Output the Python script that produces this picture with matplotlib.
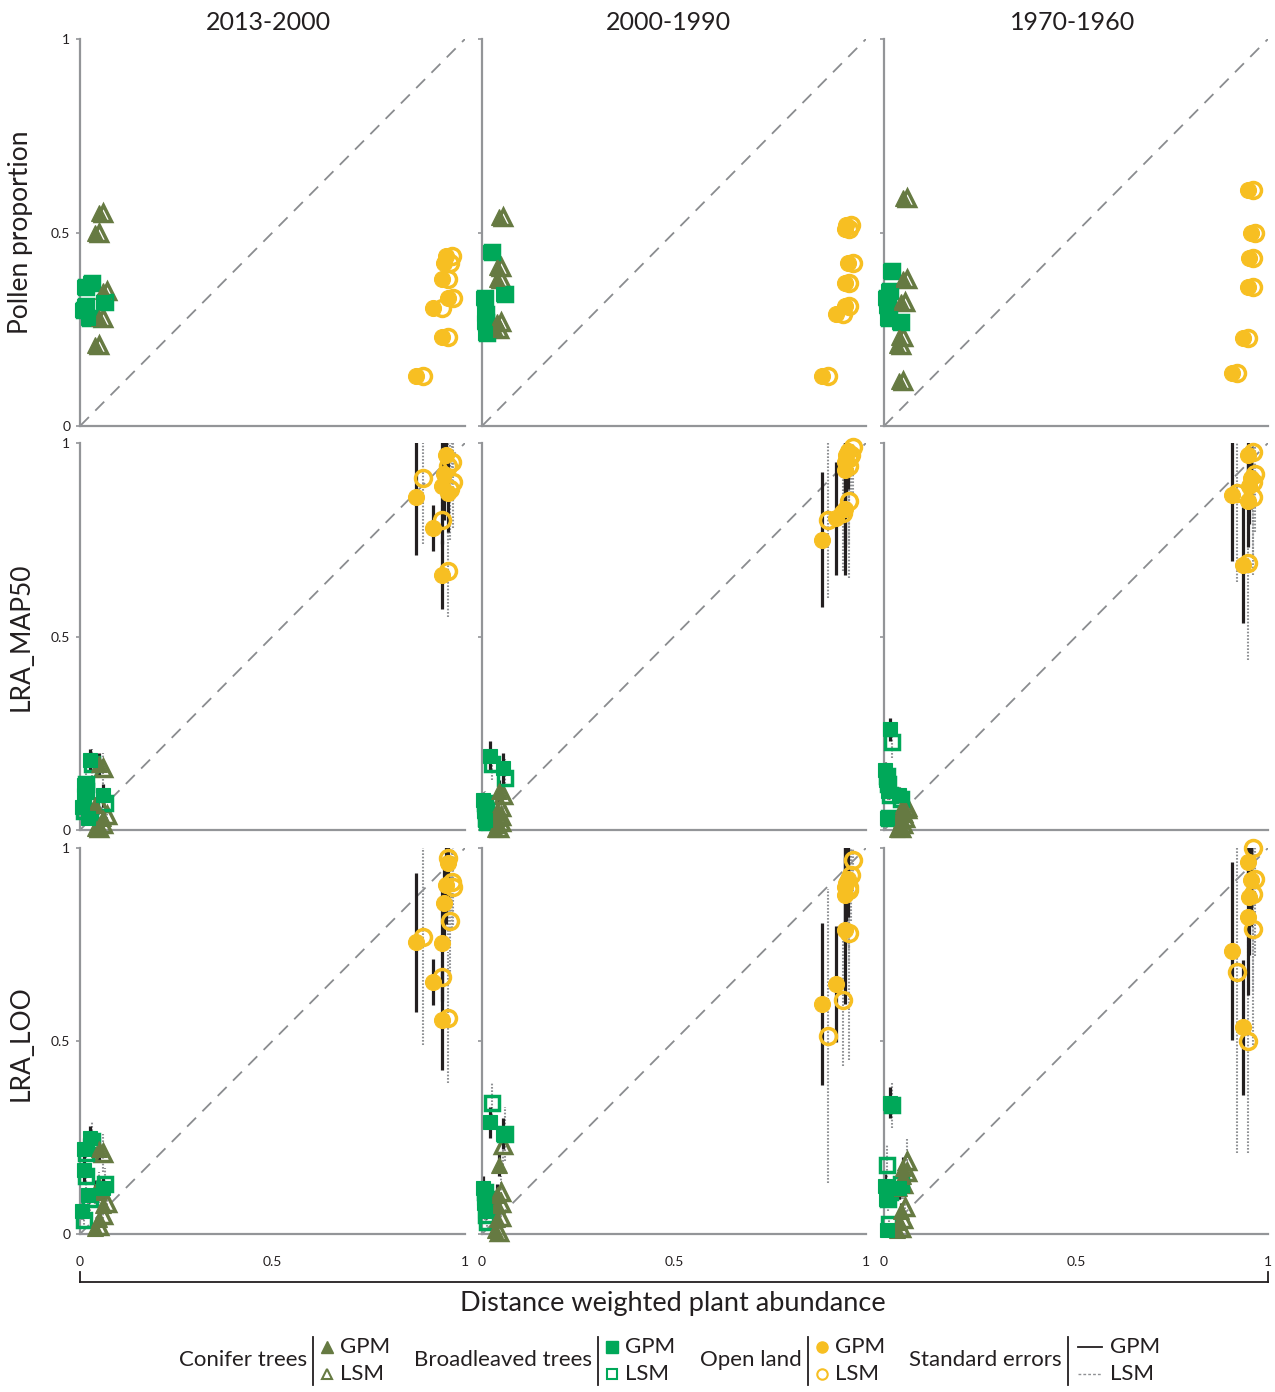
import numpy as np
import matplotlib.pyplot as plt
from matplotlib.lines import Line2D

plt.rcParams['font.family'] = ['Lato', 'DejaVu Sans']

periods = ['2013-2000', '2000-1990', '1970-1960']
row_labels = ['Pollen proportion', 'LRA_MAP50', 'LRA_LOO']

# Conifer trees, one list per period (column)
cf_x_gpm = [[0.05, 0.04, 0.06, 0.05, 0.04],
            [0.045, 0.04, 0.04, 0.04, 0.035],
            [0.05, 0.05, 0.045, 0.04, 0.035, 0.04]]
cf_x_lsm = [[0.06, 0.05, 0.07, 0.06, 0.05],
            [0.055, 0.05, 0.05, 0.05, 0.045],
            [0.06, 0.06, 0.055, 0.05, 0.045, 0.05]]
cf_pollen = [[0.55, 0.50, 0.35, 0.28, 0.21],
             [0.54, 0.41, 0.38, 0.27, 0.25],
             [0.59, 0.38, 0.32, 0.23, 0.21, 0.115]]
cf_map_gpm = [[0.17, 0.065, 0.03, 0.01, 0.005],
              [0.10, 0.05, 0.03, 0.013, 0.003],
              [0.065, 0.05, 0.025, 0.01, 0.003, 0.04]]
cf_map_gpm_se = [[0.03, 0.02, 0.02, 0.01, 0.01],
                 [0.03, 0.02, 0.02, 0.01, 0.01],
                 [0.02, 0.02, 0.01, 0.01, 0.01, 0.02]]
cf_map_lsm = [[0.16, 0.07, 0.04, 0.015, 0.005],
              [0.09, 0.06, 0.035, 0.02, 0.005],
              [0.06, 0.055, 0.03, 0.015, 0.005, 0.045]]
cf_map_lsm_se = [[0.04, 0.03, 0.02, 0.01, 0.01],
                 [0.04, 0.03, 0.02, 0.01, 0.01],
                 [0.03, 0.02, 0.02, 0.01, 0.01, 0.02]]
cf_loo_gpm = [[0.22, 0.11, 0.075, 0.04, 0.015],
              [0.18, 0.10, 0.075, 0.04, 0.01],
              [0.17, 0.15, 0.06, 0.03, 0.01, 0.12]]
cf_loo_gpm_se = [[0.03, 0.03, 0.02, 0.02, 0.01],
                 [0.03, 0.03, 0.02, 0.02, 0.01],
                 [0.03, 0.03, 0.02, 0.02, 0.01, 0.03]]
cf_loo_lsm = [[0.21, 0.12, 0.08, 0.05, 0.02],
              [0.23, 0.11, 0.08, 0.045, 0.005],
              [0.19, 0.16, 0.07, 0.04, 0.015, 0.13]]
cf_loo_lsm_se = [[0.05, 0.04, 0.03, 0.02, 0.01],
                 [0.05, 0.04, 0.03, 0.02, 0.01],
                 [0.06, 0.04, 0.03, 0.02, 0.01, 0.04]]

# Broadleaved trees
bl_x_gpm = [[0.025, 0.01, 0.06, 0.01, 0.02, 0.005],
            [0.02, 0.003, 0.055, 0.005, 0.008, 0.006],
            [0.015, 0.003, 0.005, 0.008, 0.04, 0.01]]
bl_x_lsm = [[0.03, 0.015, 0.065, 0.015, 0.025, 0.01],
            [0.025, 0.008, 0.06, 0.01, 0.013, 0.01],
            [0.02, 0.008, 0.01, 0.013, 0.045, 0.015]]
bl_pollen = [[0.37, 0.36, 0.32, 0.31, 0.28, 0.30],
             [0.45, 0.33, 0.34, 0.27, 0.24, 0.29],
             [0.40, 0.33, 0.31, 0.28, 0.27, 0.35]]
bl_map_gpm = [[0.18, 0.115, 0.09, 0.09, 0.03, 0.06],
              [0.19, 0.077, 0.16, 0.05, 0.025, 0.06],
              [0.26, 0.155, 0.13, 0.03, 0.09, 0.10]]
bl_map_gpm_se = [[0.03, 0.02, 0.03, 0.02, 0.01, 0.02],
                 [0.04, 0.02, 0.04, 0.02, 0.01, 0.02],
                 [0.03, 0.02, 0.02, 0.01, 0.02, 0.02]]
bl_map_lsm = [[0.17, 0.12, 0.07, 0.10, 0.04, 0.05],
              [0.17, 0.07, 0.134, 0.05, 0.02, 0.03],
              [0.227, 0.14, 0.12, 0.03, 0.08, 0.09]]
bl_map_lsm_se = [[0.04, 0.03, 0.03, 0.03, 0.02, 0.02],
                 [0.04, 0.03, 0.05, 0.02, 0.01, 0.02],
                 [0.04, 0.03, 0.03, 0.02, 0.02, 0.02]]
bl_loo_gpm = [[0.25, 0.22, 0.12, 0.165, 0.10, 0.06],
              [0.29, 0.12, 0.26, 0.093, 0.06, 0.08],
              [0.34, 0.125, 0.09, 0.01, 0.12, 0.12]]
bl_loo_gpm_se = [[0.03, 0.03, 0.03, 0.03, 0.02, 0.02],
                 [0.04, 0.03, 0.04, 0.02, 0.02, 0.02],
                 [0.04, 0.03, 0.02, 0.01, 0.03, 0.02]]
bl_loo_lsm = [[0.24, 0.21, 0.13, 0.15, 0.09, 0.035],
              [0.34, 0.11, 0.26, 0.09, 0.03, 0.05],
              [0.335, 0.18, 0.09, 0.025, 0.13, 0.11]]
bl_loo_lsm_se = [[0.05, 0.04, 0.04, 0.04, 0.03, 0.02],
                 [0.05, 0.03, 0.07, 0.03, 0.02, 0.02],
                 [0.06, 0.05, 0.03, 0.02, 0.04, 0.03]]

# Open land
ol_x_gpm = [[0.873, 0.917, 0.94, 0.95, 0.945, 0.94, 0.955],
            [0.948, 0.945, 0.953, 0.945, 0.945, 0.922, 0.885],
            [0.948, 0.955, 0.95, 0.948, 0.935, 0.906]]
ol_x_lsm = [[0.89, 0.94, 0.955, 0.965, 0.96, 0.955, 0.97],
            [0.96, 0.955, 0.965, 0.955, 0.955, 0.94, 0.90],
            [0.96, 0.965, 0.962, 0.96, 0.948, 0.92]]
ol_pollen = [[0.13, 0.305, 0.23, 0.44, 0.42, 0.38, 0.33],
             [0.52, 0.51, 0.42, 0.37, 0.31, 0.29, 0.13],
             [0.61, 0.50, 0.434, 0.36, 0.227, 0.137]]
ol_map_gpm = [[0.86, 0.78, 0.66, 0.97, 0.92, 0.89, 0.87],
              [0.97, 0.95, 0.98, 0.93, 0.83, 0.806, 0.75],
              [0.97, 0.91, 0.89, 0.85, 0.685, 0.866]]
ol_map_gpm_se = [[0.15, 0.06, 0.09, 0.08, 0.12, 0.15, 0.10],
                 [0.10, 0.12, 0.10, 0.20, 0.17, 0.146, 0.175],
                 [0.05, 0.08, 0.10, 0.12, 0.15, 0.17]]
ol_map_lsm = [[0.91, 0.80, 0.67, 0.95, 0.88, 0.94, 0.90],
              [0.97, 0.96, 0.99, 0.94, 0.85, 0.82, 0.80],
              [0.976, 0.92, 0.90, 0.86, 0.69, 0.87]]
ol_map_lsm_se = [[0.17, 0.07, 0.12, 0.10, 0.13, 0.10, 0.12],
                 [0.10, 0.15, 0.12, 0.20, 0.20, 0.15, 0.20],
                 [0.10, 0.15, 0.20, 0.20, 0.25, 0.23]]
ol_loo_gpm = [[0.756, 0.653, 0.554, 0.904, 0.857, 0.754, 0.96],
              [0.91, 0.90, 0.92, 0.878, 0.787, 0.648, 0.596],
              [0.964, 0.917, 0.873, 0.82, 0.536, 0.733]]
ol_loo_gpm_se = [[0.18, 0.06, 0.13, 0.10, 0.12, 0.15, 0.10],
                 [0.10, 0.12, 0.10, 0.13, 0.19, 0.15, 0.21],
                 [0.10, 0.12, 0.15, 0.20, 0.175, 0.23]]
ol_loo_lsm = [[0.77, 0.666, 0.56, 0.912, 0.81, 0.974, 0.90],
              [0.93, 0.89, 0.97, 0.90, 0.78, 0.606, 0.513],
              [1.0, 0.92, 0.88, 0.79, 0.50, 0.68]]
ol_loo_lsm_se = [[0.28, 0.10, 0.17, 0.12, 0.14, 0.20, 0.10],
                 [0.12, 0.15, 0.10, 0.20, 0.33, 0.17, 0.38],
                 [0.15, 0.20, 0.25, 0.30, 0.29, 0.47]]

# colours
c_conifer = '#667a42'
c_broad = '#00a859'
c_open = '#f7bf22'
c_axis = '#939598'
c_text = '#231f20'
c_gpm_err = '#231f20'
c_lsm_err = '#8f9194'

W, H = 1275, 1392
fig = plt.figure(figsize=(W / 100, H / 100), dpi=100)


def fx(p):
    return p / W


def fy(p):
    return 1 - p / H


col_left = [80, 482, 884]
col_width = [385, 384, 384]
row_bottom = [426, 830, 1234]
row_height = [387, 387, 386]

groups = [
    (cf_x_gpm, cf_x_lsm, cf_pollen, cf_map_gpm, cf_map_gpm_se, cf_map_lsm, cf_map_lsm_se,
     cf_loo_gpm, cf_loo_gpm_se, cf_loo_lsm, cf_loo_lsm_se, c_conifer, '^', 11),
    (bl_x_gpm, bl_x_lsm, bl_pollen, bl_map_gpm, bl_map_gpm_se, bl_map_lsm, bl_map_lsm_se,
     bl_loo_gpm, bl_loo_gpm_se, bl_loo_lsm, bl_loo_lsm_se, c_broad, 's', 10.5),
    (ol_x_gpm, ol_x_lsm, ol_pollen, ol_map_gpm, ol_map_gpm_se, ol_map_lsm, ol_map_lsm_se,
     ol_loo_gpm, ol_loo_gpm_se, ol_loo_lsm, ol_loo_lsm_se, c_open, 'o', 11.5),
]

for r in range(3):
    for c in range(3):
        ax = fig.add_axes([fx(col_left[c]), fy(row_bottom[r]),
                           col_width[c] / W, row_height[r] / H])
        ax.set_xlim(0, 1)
        ax.set_ylim(0, 1)
        for s in ['top', 'right']:
            ax.spines[s].set_visible(False)
        for s in ['left', 'bottom']:
            ax.spines[s].set_color(c_axis)
            ax.spines[s].set_linewidth(1.6)
        ax.set_yticks([0, 0.5, 1])
        if c == 0:
            ax.set_yticklabels(['0', '0.5', '1'])
        else:
            ax.set_yticklabels([])
        ax.tick_params(axis='y', length=3, width=1.2, color=c_axis, labelsize=10, pad=4,
                       labelcolor=c_text)
        if r == 2:
            ax.set_xticks([0, 0.5, 1])
            ax.set_xticklabels(['0', '0.5', '1'])
            ax.tick_params(axis='x', length=0, labelsize=10, pad=16, labelcolor=c_text)
        else:
            ax.set_xticks([])
        ax.plot([0, 1], [0, 1], color='#8a8c8f', lw=1.3, dashes=(7, 5), zorder=1)

        for (xg, xl, pol, mg, mgs, ml, mls, lg, lgs, ll, lls, col, mk, ms) in groups:
            if r == 0:
                yg, yl, seg, sel = pol[c], pol[c], None, None
            elif r == 1:
                yg, yl, seg, sel = mg[c], ml[c], mgs[c], mls[c]
            else:
                yg, yl, seg, sel = lg[c], ll[c], lgs[c], lls[c]
            if seg is not None:
                e = ax.errorbar(xl[c], yl, yerr=sel, fmt='none', ecolor=c_lsm_err,
                                elinewidth=1.5, capsize=0, zorder=2)
                e[2][0].set_linestyle((0, (0.8, 0.8)))
                ax.errorbar(xg[c], yg, yerr=seg, fmt='none', ecolor=c_gpm_err,
                            elinewidth=2.3, capsize=0, zorder=2)
            ax.plot(xl[c], yl, ls='none', marker=mk, ms=ms, mfc='none', mec=col,
                    mew=2.5, clip_on=False, zorder=3)
            ax.plot(xg[c], yg, ls='none', marker=mk, ms=ms, mfc=col, mec=col,
                    mew=0.8, clip_on=False, zorder=4)

# column titles and row labels
title_x = [268, 668, 1073]
for c in range(3):
    fig.text(fx(title_x[c]), fy(23), periods[c], ha='center', va='center',
             fontsize=18, color=c_text)
label_y = [232, 637, 1043]
for r in range(3):
    fig.text(fx(21), fy(label_y[r]), row_labels[r], rotation=90, ha='center',
             va='center', fontsize=19, color=c_text)

# x axis bracket and label
fig.add_artist(Line2D([fx(80), fx(1268)], [fy(1282), fy(1282)], color=c_text, lw=1.3))
fig.add_artist(Line2D([fx(80), fx(80)], [fy(1282), fy(1272)], color=c_text, lw=1.3))
fig.add_artist(Line2D([fx(1268), fx(1268)], [fy(1282), fy(1272)], color=c_text, lw=1.3))
fig.text(fx(673), fy(1303), 'Distance weighted plant abundance', ha='center', va='center',
         fontsize=19.5, color=c_text)

# legend
leg_groups = [('Conifer trees', 307, c_conifer, '^'),
              ('Broadleaved trees', 592, c_broad, 's'),
              ('Open land', 802, c_open, 'o')]
for name, xr, col, mk in leg_groups:
    fig.text(fx(xr), fy(1360), name, ha='right', va='center', fontsize=16, color=c_text)
    fig.add_artist(Line2D([fx(xr + 6)] * 2, [fy(1337), fy(1385)], color=c_text, lw=1.3))
    fig.add_artist(Line2D([fx(xr + 20)], [fy(1347)], marker=mk, ms=8, mfc=col, mec=col,
                          ls='none'))
    fig.add_artist(Line2D([fx(xr + 20)], [fy(1374)], marker=mk, ms=7.5, mfc='none', mec=col,
                          mew=1.5, ls='none'))
    fig.text(fx(xr + 33), fy(1347), 'GPM', ha='left', va='center', fontsize=16,
             color=c_text)
    fig.text(fx(xr + 33), fy(1374), 'LSM', ha='left', va='center', fontsize=16,
             color=c_text)

fig.text(fx(1062), fy(1360), 'Standard errors', ha='right', va='center', fontsize=16,
         color=c_text)
fig.add_artist(Line2D([fx(1068)] * 2, [fy(1337), fy(1385)], color=c_text, lw=1.3))
fig.add_artist(Line2D([fx(1078), fx(1102)], [fy(1347)] * 2, color=c_text, lw=1.3))
fig.add_artist(Line2D([fx(1078), fx(1102)], [fy(1374)] * 2, color=c_lsm_err, lw=1.0,
                      dashes=(2, 1.5)))
fig.text(fx(1110), fy(1347), 'GPM', ha='left', va='center', fontsize=16, color=c_text)
fig.text(fx(1110), fy(1374), 'LSM', ha='left', va='center', fontsize=16, color=c_text)

fig.savefig('out.png', dpi=100)
